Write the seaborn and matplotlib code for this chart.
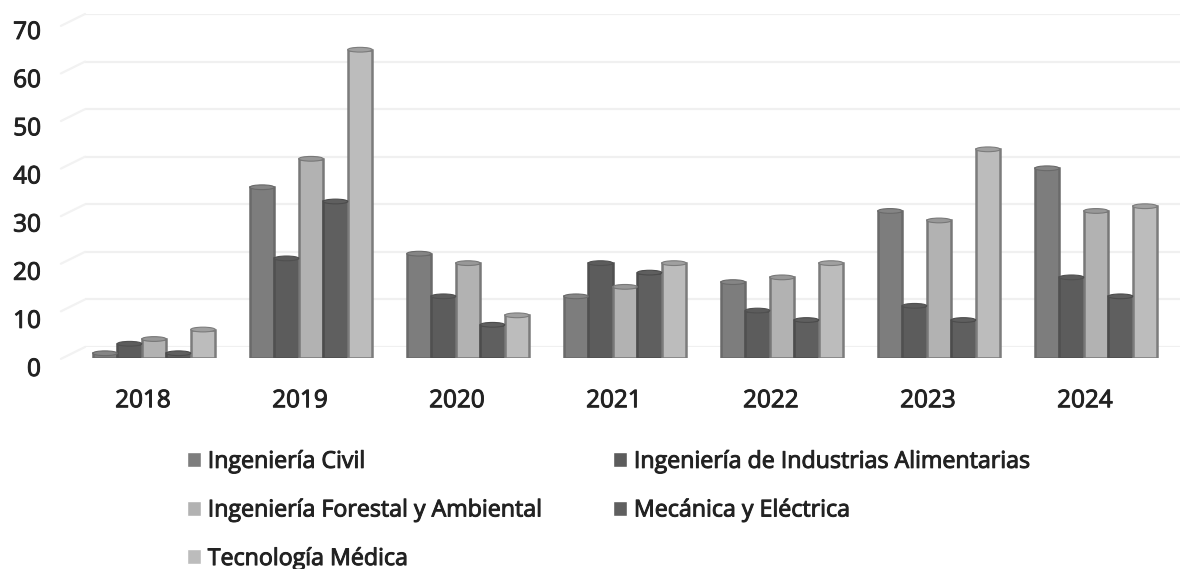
import pandas as pd
import matplotlib
matplotlib.use('Agg')
import matplotlib.pyplot as plt
import matplotlib.patheffects as pe
from matplotlib.patches import Ellipse
import seaborn as sns

years = ['2018', '2019', '2020', '2021', '2022', '2023', '2024']
civil = [1, 36, 22, 13, 16, 31, 40]
alimentarias = [3, 21, 13, 20, 10, 11, 17]
forestal = [4, 42, 20, 15, 17, 29, 31]
mecanica = [1, 33, 7, 18, 8, 8, 13]
tecnologia = [6, 65, 9, 20, 20, 44, 32]

names = ['Ingeniería Civil', 'Ingeniería de Industrias Alimentarias',
         'Ingeniería Forestal y Ambiental', 'Mecánica y Eléctrica', 'Tecnología Médica']
colors = ['#7d7d7d', '#5c5c5c', '#b2b2b2', '#5f5f5f', '#bcbcbc']
edges = ['#6a6a6a', '#505050', '#787878', '#4c4c4c', '#7c7c7c']
caps = ['#858585', '#5c5c5c', '#989898', '#5f5f5f', '#a0a0a0']
y_ticks = [0, 10, 20, 30, 40, 50, 60, 70]

W, H = 1180, 569
TEXT = '#222222'
# the scan makes the text heavier than the regular weight
HEAVY = [pe.withStroke(linewidth=0.7, foreground=TEXT)]


def px_axes(fig, left, right, top, bottom):
    # rectangle in reference pixels
    return fig.add_axes([left / W, 1 - bottom / H, (right - left) / W, (bottom - top) / H])


df = pd.DataFrame({'year': years, names[0]: civil, names[1]: alimentarias, names[2]: forestal,
                   names[3]: mecanica, names[4]: tecnologia})
df = df.melt(id_vars='year', var_name='carrera', value_name='n')

sns.set_theme(style='white')
plt.rcParams['font.family'] = ['Open Sans', 'DejaVu Sans']
fig = plt.figure(figsize=(W / 100, H / 100), dpi=100)

# back wall of the 3D chart
ax_wall = px_axes(fig, 85, 1180, 14, 347)
ax_wall.set_ylim(0, 70)
ax_wall.set_xlim(0, 1)
ax_wall.set_xticks([])
ax_wall.set_yticks(y_ticks)
ax_wall.tick_params(left=False, labelleft=False)
ax_wall.grid(axis='y', color='#f0f0f0', lw=1.6)
ax_wall.set_axisbelow(True)
sns.despine(ax=ax_wall, left=True, bottom=True)
for t in y_ticks:
    ax_wall.plot([-0.022, 0], [t - 2.5, t], color='#f2f2f2', lw=1.6, clip_on=False)

# tick labels sit on their own scale, the chart is in perspective
ax_lab = px_axes(fig, 64.5, 1163.5, 30, 367)
ax_lab.patch.set_alpha(0)
ax_lab.set_ylim(0, 70)
ax_lab.set_xlim(-0.5, 6.5)
ax_lab.set_xticks(range(len(years)))
ax_lab.set_xticklabels(years)
ax_lab.set_yticks(y_ticks)
ax_lab.tick_params(left=False, bottom=False, labelsize=17.5, labelcolor=TEXT)
ax_lab.tick_params(axis='y', pad=11)
ax_lab.tick_params(axis='x', pad=10)
for lab in ax_lab.get_yticklabels() + ax_lab.get_xticklabels():
    lab.set_path_effects(HEAVY)
sns.despine(ax=ax_lab, left=True, bottom=True)

# bars, shifted a bit to the right of their labels
ax = px_axes(fig, 75.5, 1174.5, 26, 358)
ax.patch.set_alpha(0)
sns.barplot(data=df, x='year', y='n', hue='carrera', hue_order=names, order=years,
            palette=colors, width=0.78, gap=0, saturation=1, errorbar=None, ax=ax)
ax.set_xlim(-0.5, 6.5)
ax.set_ylim(0, 70)
ax.set_yticks([])
ax.set_xticks([])
ax.set_xlabel('')
ax.set_ylabel('')
sns.despine(ax=ax, left=True, bottom=True)

handles, labels = ax.get_legend_handles_labels()
ax.get_legend().remove()

for i, c in enumerate(ax.containers):
    for p in c:
        p.set_edgecolor(edges[i])
        p.set_linewidth(1.8)
        # rounded cap of the cylinder
        ax.add_patch(Ellipse((p.get_x() + p.get_width() / 2, p.get_height()), p.get_width(), 1.0,
                             facecolor=caps[i], edgecolor=edges[i], lw=0.8, zorder=3))

order = [0, 2, 4, 1, 3]
leg = fig.legend([handles[i] for i in order], [labels[i] for i in order], ncol=2, frameon=False,
                 loc='upper left', bbox_to_anchor=(166 / W, 1 - 429 / H), fontsize=16.7,
                 handlelength=0.62, handleheight=0.62, handletextpad=0.28, columnspacing=3.1,
                 labelspacing=1.06, labelcolor=TEXT)
for txt in leg.get_texts():
    txt.set_path_effects(HEAVY)

fig.savefig('out.png', dpi=100)
